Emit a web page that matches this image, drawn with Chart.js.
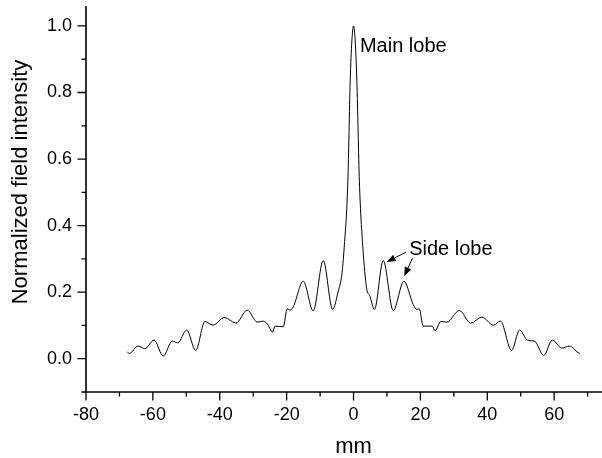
<!DOCTYPE html>
<html><head><meta charset="utf-8">
<script src="https://cdn.jsdelivr.net/npm/chart.js@4/dist/chart.umd.min.js"></script>
<style>html,body{margin:0;padding:0;background:#fff;}#c{display:block}</style>
</head><body>
<canvas id="c" width="602" height="458"></canvas>
<script>
// Data
const positionMm = [-67.65,-67.05,-64.45,-62.36,-59.67,-56.89,-54.23,-52.56,-49.90,-47.20,-44.42,-42.03,-38.60,-35.16,-31.78,-28.79,-27.00,-25.80,-24.19,-23.50,-21.02,-19.82,-19.01,-18.03,-15.04,-12.05,-9.06,-6.25,-4.57,-3.50,-2.80,-1.70,-1.00,-0.50,0.00,0.50,1.00,1.75,2.80,3.90,4.90,6.25,8.88,11.87,15.07,17.85,18.95,19.64,20.84,23.59,24.33,26.13,27.92,31.66,35.01,38.39,41.82,43.92,47.26,49.66,51.99,54.23,56.86,59.46,62.30,64.54,67.18,67.68];
const intensity = [0.020,0.016,0.038,0.030,0.056,0.008,0.053,0.048,0.086,0.025,0.112,0.101,0.124,0.107,0.146,0.110,0.113,0.105,0.080,0.098,0.096,0.150,0.146,0.156,0.233,0.144,0.295,0.148,0.203,0.253,0.333,0.533,0.833,0.955,1.000,0.955,0.833,0.533,0.333,0.213,0.188,0.148,0.295,0.145,0.233,0.163,0.148,0.150,0.098,0.098,0.084,0.112,0.110,0.145,0.107,0.125,0.101,0.113,0.025,0.086,0.056,0.052,0.010,0.056,0.032,0.038,0.018,0.016];
const xRange = [-80, 74.3];
const yRange = [-0.1, 1.06];
const xTitle = 'mm';
const yTitle = 'Normalized field intensity';
const mainLobeLabel = {text: 'Main lobe', x: 1.91, y: 0.923};
const sideLobeLabel = {text: 'Side lobe', x: 16.65, y: 0.313};
const sideLobeArrows = [[15.67, 0.320, 9.90, 0.291], [17.67, 0.303, 15.16, 0.248]];

const FONT = '"Liberation Sans", Arial, Helvetica, sans-serif';
Chart.defaults.font.family = FONT;
Chart.defaults.color = '#000';

const points = positionMm.map((x, i) => ({x, y: intensity[i]}));

const decor = {
  id: 'decor',
  afterDraw(chart) {
    const {ctx, chartArea: a, scales: {x, y}} = chart;
    ctx.save();
    ctx.strokeStyle = '#000';
    ctx.fillStyle = '#000';
    ctx.lineWidth = 1.6;
    ctx.beginPath();
    ctx.moveTo(a.left, a.top);
    ctx.lineTo(a.left, a.bottom);
    ctx.lineTo(a.right, a.bottom);
    ctx.stroke();
    ctx.lineWidth = 1.3;
    ctx.beginPath();
    for (let v = xRange[0]; v <= xRange[1]; v += 10) {
      const p = x.getPixelForValue(v);
      const len = (Math.round(v) % 20 === 0) ? 8.5 : 4.5;
      ctx.moveTo(p, a.bottom);
      ctx.lineTo(p, a.bottom + len);
    }
    for (let i = -1; i <= 10; i++) {
      const p = y.getPixelForValue(i / 10);
      const len = (i % 2 === 0) ? 8.5 : 4.5;
      ctx.moveTo(a.left, p);
      ctx.lineTo(a.left - len, p);
    }
    ctx.stroke();
    ctx.font = '22px ' + FONT;
    ctx.textAlign = 'center';
    ctx.textBaseline = 'alphabetic';
    ctx.fillText(xTitle, x.getPixelForValue(0), 453);
    ctx.save();
    ctx.translate(26.7, 182);
    ctx.rotate(-Math.PI / 2);
    ctx.fillText(yTitle, 0, 0);
    ctx.restore();
    ctx.font = '20px ' + FONT;
    ctx.textAlign = 'left';
    [mainLobeLabel, sideLobeLabel].forEach(l => {
      ctx.fillText(l.text, x.getPixelForValue(l.x), y.getPixelForValue(l.y));
    });
    ctx.lineWidth = 1;
    sideLobeArrows.forEach(([x1, y1, x2, y2]) => {
      const X1 = x.getPixelForValue(x1), Y1 = y.getPixelForValue(y1);
      const X2 = x.getPixelForValue(x2), Y2 = y.getPixelForValue(y2);
      const ang = Math.atan2(Y2 - Y1, X2 - X1);
      const hl = 9, hw = 3.5;
      const bx = X2 - hl * Math.cos(ang), by = Y2 - hl * Math.sin(ang);
      ctx.beginPath();
      ctx.moveTo(X1, Y1);
      ctx.lineTo(bx, by);
      ctx.stroke();
      ctx.beginPath();
      ctx.moveTo(X2, Y2);
      ctx.lineTo(bx + hw * Math.sin(ang), by - hw * Math.cos(ang));
      ctx.lineTo(bx - hw * Math.sin(ang), by + hw * Math.cos(ang));
      ctx.closePath();
      ctx.fill();
    });
    ctx.restore();
  }
};

new Chart(document.getElementById('c'), {
  type: 'scatter',
  data: {
    datasets: [{
      data: points,
      showLine: true,
      borderColor: '#000',
      borderWidth: 1,
      pointRadius: 0,
      fill: false,
      cubicInterpolationMode: 'monotone'
    }]
  },
  options: {
    responsive: false,
    animation: false,
    layout: {padding: {top: 6, right: 0, left: 0, bottom: 0}},
    plugins: {legend: {display: false}, tooltip: {enabled: false}},
    scales: {
      x: {
        type: 'linear', position: 'bottom',
        min: xRange[0], max: xRange[1],
        grid: {display: false, drawTicks: false}, border: {display: false},
        ticks: {stepSize: 20, includeBounds: false, padding: 12, font: {size: 18}, color: '#000', maxRotation: 0},
        afterFit(s) { s.height = 66; s.paddingLeft = 0; s.paddingRight = 0; }
      },
      y: {
        type: 'linear', position: 'left',
        min: yRange[0], max: yRange[1],
        grid: {display: false, drawTicks: false}, border: {display: false},
        ticks: {stepSize: 0.2, includeBounds: false, padding: 14, font: {size: 18}, color: '#000',
          callback: v => v.toFixed(1)},
        afterFit(s) { s.width = 86; s.paddingTop = 0; s.paddingBottom = 0; }
      }
    }
  },
  plugins: [decor]
});
</script>
</body></html>
